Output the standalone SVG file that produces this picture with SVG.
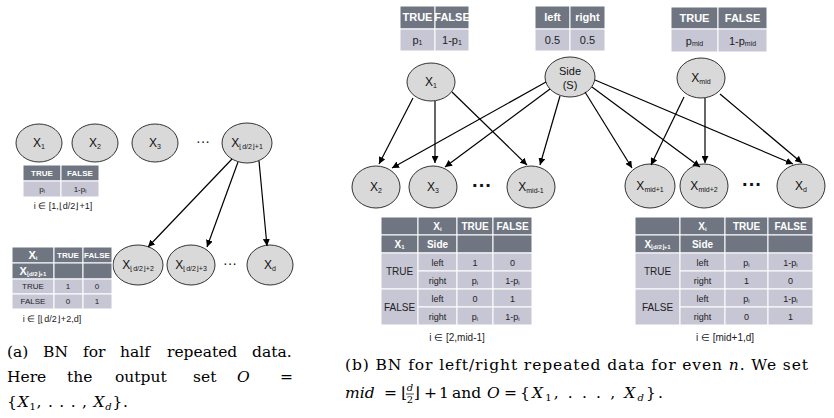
<svg xmlns="http://www.w3.org/2000/svg" width="834" height="418" viewBox="0 0 834 418">
<defs>
<marker id="ah" viewBox="0 0 10 10" refX="10" refY="5" markerWidth="7" markerHeight="7" orient="auto" markerUnits="userSpaceOnUse">
<path d="M0,0 L10,5 L0,10 z" fill="#000"/>
</marker>
<style>
.nd ellipse{fill:#d9d9d9;stroke:#333;stroke-width:1}
.t{font-family:"Liberation Sans",Arial,sans-serif;text-anchor:middle;fill:#111}
.nl{font-size:12px}
.sb{font-size:7px}
.edges line{stroke:#000;stroke-width:1.2;marker-end:url(#ah)}
.hd{fill:#6f7682;stroke:#fff;stroke-width:1}
.dt{fill:#c6c6d4;stroke:#fff;stroke-width:1}
.ht{fill:#fff;font-weight:bold}
.dx{fill:#222}
.cap{font-family:"DejaVu Serif","Liberation Serif",serif;font-size:15.5px;fill:#000}
.it{font-style:italic}
.dots{font-family:"Liberation Sans",Arial,sans-serif;text-anchor:middle;fill:#111}
</style>
</defs>
<rect width="834" height="418" fill="#fff"/>

<!-- ===== (a) ===== -->
<g id="a_x1" class="nd"><ellipse cx="39" cy="143" rx="23" ry="19"/><text class="t nl" x="39" y="147">X<tspan class="sb" dy="2">1</tspan></text></g>
<g id="a_x2" class="nd"><ellipse cx="95" cy="143" rx="23" ry="19"/><text class="t nl" x="95" y="147">X<tspan class="sb" dy="2">2</tspan></text></g>
<g id="a_x3" class="nd"><ellipse cx="155" cy="143" rx="23" ry="19"/><text class="t nl" x="155" y="147">X<tspan class="sb" dy="2">3</tspan></text></g>
<text class="dots" x="203" y="146" font-size="14">···</text>
<g id="a_xh1" class="nd"><ellipse cx="247" cy="143" rx="25" ry="20"/><text class="t nl" x="247" y="147">X<tspan class="sb" dy="2">⌊d/2⌋+1</tspan></text></g>

<g id="a_xh2" class="nd"><ellipse cx="138" cy="265" rx="25" ry="20"/><text class="t nl" x="138" y="269">X<tspan class="sb" dy="2">⌊d/2⌋+2</tspan></text></g>
<g id="a_xh3" class="nd"><ellipse cx="191" cy="265" rx="24" ry="20"/><text class="t nl" x="191" y="269">X<tspan class="sb" dy="2">⌊d/2⌋+3</tspan></text></g>
<text class="dots" x="230" y="268" font-size="14">···</text>
<g id="a_xd" class="nd"><ellipse cx="270" cy="265" rx="23" ry="20"/><text class="t nl" x="270" y="269">X<tspan class="sb" dy="2">d</tspan></text></g>

<g id="a_cpt1">
<rect class="hd" x="23" y="165" width="38" height="16"/><rect class="hd" x="61" y="165" width="38" height="16"/>
<rect class="dt" x="23" y="181" width="38" height="16"/><rect class="dt" x="61" y="181" width="38" height="16"/>
<text class="t ht" x="42" y="176" font-size="8">TRUE</text><text class="t ht" x="80" y="176" font-size="8">FALSE</text>
<text class="t dx" x="42" y="192" font-size="8">p<tspan font-size="5" dy="1">i</tspan></text><text class="t dx" x="80" y="192" font-size="8">1-p<tspan font-size="5" dy="1">i</tspan></text>
<text class="t dx" x="63" y="209" font-size="9">i ∈ [1,⌊d/2⌋+1]</text>
</g>

<g id="a_cpt2">
<rect class="hd" x="12" y="247" width="42" height="16"/><rect class="hd" x="54" y="247" width="29" height="16"/><rect class="hd" x="83" y="247" width="29" height="16"/>
<rect class="hd" x="12" y="263" width="42" height="16"/><rect class="hd" x="54" y="263" width="29" height="16"/><rect class="hd" x="83" y="263" width="29" height="16"/>
<rect class="dt" x="12" y="279" width="42" height="15"/><rect class="dt" x="54" y="279" width="29" height="15"/><rect class="dt" x="83" y="279" width="29" height="15"/>
<rect class="dt" x="12" y="294" width="42" height="15"/><rect class="dt" x="54" y="294" width="29" height="15"/><rect class="dt" x="83" y="294" width="29" height="15"/>
<text class="t ht" x="33" y="259" font-size="11">X<tspan font-size="6" dy="1">i</tspan></text>
<text class="t ht" x="68" y="258" font-size="8">TRUE</text><text class="t ht" x="97" y="258" font-size="8">FALSE</text>
<text class="t ht" x="33" y="275" font-size="11">X<tspan font-size="6" dy="1">⌊d/2⌋+1</tspan></text>
<text class="t dx" x="33" y="289" font-size="8">TRUE</text><text class="t dx" x="68" y="289" font-size="8">1</text><text class="t dx" x="97" y="289" font-size="8">0</text>
<text class="t dx" x="33" y="304" font-size="8">FALSE</text><text class="t dx" x="68" y="304" font-size="8">0</text><text class="t dx" x="97" y="304" font-size="8">1</text>
<text class="t dx" x="52" y="322" font-size="9">i ∈ [⌊d/2⌋+2,d]</text>
</g>

<!-- ===== (b) ===== -->
<g id="b_cpt_x1">
<rect class="hd" x="400" y="6" width="35" height="23"/><rect class="hd" x="435" y="6" width="34" height="23"/>
<rect class="dt" x="400" y="29" width="35" height="22"/><rect class="dt" x="435" y="29" width="34" height="22"/>
<text class="t ht" x="417.5" y="21" font-size="11">TRUE</text><text class="t ht" x="452" y="21" font-size="11">FALSE</text>
<text class="t dx" x="417.5" y="44" font-size="11">p<tspan font-size="7" dy="1">1</tspan></text><text class="t dx" x="452" y="44" font-size="11">1-p<tspan font-size="7" dy="1">1</tspan></text>
</g>
<g id="b_cpt_side">
<rect class="hd" x="535" y="6" width="35" height="23"/><rect class="hd" x="570" y="6" width="35" height="23"/>
<rect class="dt" x="535" y="29" width="35" height="22"/><rect class="dt" x="570" y="29" width="35" height="22"/>
<text class="t ht" x="552.5" y="21" font-size="11">left</text><text class="t ht" x="587.5" y="21" font-size="11">right</text>
<text class="t dx" x="552.5" y="44" font-size="11">0.5</text><text class="t dx" x="587.5" y="44" font-size="11">0.5</text>
</g>
<g id="b_cpt_xmid">
<rect class="hd" x="671" y="7" width="47" height="22"/><rect class="hd" x="718" y="7" width="49" height="22"/>
<rect class="dt" x="671" y="29" width="47" height="23"/><rect class="dt" x="718" y="29" width="49" height="23"/>
<text class="t ht" x="694.5" y="22" font-size="11">TRUE</text><text class="t ht" x="742.5" y="22" font-size="11">FALSE</text>
<text class="t dx" x="694.5" y="45" font-size="11">p<tspan font-size="7" dy="1">mid</tspan></text><text class="t dx" x="742.5" y="45" font-size="11">1-p<tspan font-size="7" dy="1">mid</tspan></text>
</g>

<g id="b_x1" class="nd"><ellipse cx="431" cy="82" rx="24" ry="19"/><text class="t nl" x="431" y="86">X<tspan class="sb" dy="2">1</tspan></text></g>
<g id="b_side" class="nd"><ellipse cx="570" cy="77" rx="25" ry="20"/><text class="t" x="570" y="75" font-size="11">Side</text><text class="t" x="570" y="89" font-size="11">(S)</text></g>
<g id="b_xmid" class="nd"><ellipse cx="701" cy="78" rx="24" ry="20"/><text class="t nl" x="701" y="82">X<tspan class="sb" dy="2">mid</tspan></text></g>

<g id="b_x2" class="nd"><ellipse cx="376" cy="187" rx="24" ry="21"/><text class="t nl" x="376" y="191">X<tspan class="sb" dy="2">2</tspan></text></g>
<g id="b_x3" class="nd"><ellipse cx="433" cy="187" rx="24" ry="21"/><text class="t nl" x="433" y="191">X<tspan class="sb" dy="2">3</tspan></text></g>
<text class="dots" x="482" y="192" font-size="20" font-weight="bold">···</text>
<g id="b_xm1" class="nd"><ellipse cx="531" cy="187" rx="24" ry="21"/><text class="t nl" x="531" y="191">X<tspan class="sb" dy="2">mid-1</tspan></text></g>
<g id="b_xp1" class="nd"><ellipse cx="650" cy="186" rx="25" ry="22"/><text class="t nl" x="650" y="190">X<tspan class="sb" dy="2">mid+1</tspan></text></g>
<g id="b_xp2" class="nd"><ellipse cx="704" cy="186" rx="24" ry="22"/><text class="t nl" x="704" y="190">X<tspan class="sb" dy="2">mid+2</tspan></text></g>
<text class="dots" x="752" y="191" font-size="20" font-weight="bold">···</text>
<g id="b_xd" class="nd"><ellipse cx="801" cy="186" rx="24" ry="22"/><text class="t nl" x="801" y="190">X<tspan class="sb" dy="2">d</tspan></text></g>

<g id="b_cpt_left">
<rect class="hd" x="381" y="217" width="37" height="18"/><rect class="hd" x="418" y="217" width="39" height="18"/><rect class="hd" x="457" y="217" width="36" height="18"/><rect class="hd" x="493" y="217" width="39" height="18"/>
<rect class="hd" x="381" y="235" width="37" height="18"/><rect class="hd" x="418" y="235" width="39" height="18"/><rect class="hd" x="457" y="235" width="36" height="18"/><rect class="hd" x="493" y="235" width="39" height="18"/>
<rect class="dt" x="381" y="253" width="37" height="36"/>
<rect class="dt" x="418" y="253" width="39" height="18"/><rect class="dt" x="457" y="253" width="36" height="18"/><rect class="dt" x="493" y="253" width="39" height="18"/>
<rect class="dt" x="418" y="271" width="39" height="18"/><rect class="dt" x="457" y="271" width="36" height="18"/><rect class="dt" x="493" y="271" width="39" height="18"/>
<rect class="dt" x="381" y="289" width="37" height="36"/>
<rect class="dt" x="418" y="289" width="39" height="18"/><rect class="dt" x="457" y="289" width="36" height="18"/><rect class="dt" x="493" y="289" width="39" height="18"/>
<rect class="dt" x="418" y="307" width="39" height="18"/><rect class="dt" x="457" y="307" width="36" height="18"/><rect class="dt" x="493" y="307" width="39" height="18"/>
<text class="t ht" x="437.5" y="230" font-size="10">X<tspan font-size="6" dy="1">i</tspan></text>
<text class="t ht" x="475" y="230" font-size="10">TRUE</text><text class="t ht" x="512.5" y="230" font-size="10">FALSE</text>
<text class="t ht" x="399.5" y="248" font-size="10">X<tspan font-size="6" dy="1">1</tspan></text><text class="t ht" x="437.5" y="248" font-size="10">Side</text>
<text class="t dx" x="399.5" y="275" font-size="10">TRUE</text>
<text class="t dx" x="437.5" y="266" font-size="9">left</text><text class="t dx" x="475" y="266" font-size="9">1</text><text class="t dx" x="512.5" y="266" font-size="9">0</text>
<text class="t dx" x="437.5" y="284" font-size="9">right</text><text class="t dx" x="475" y="284" font-size="9">p<tspan font-size="6" dy="1">i</tspan></text><text class="t dx" x="512.5" y="284" font-size="9">1-p<tspan font-size="6" dy="1">i</tspan></text>
<text class="t dx" x="399.5" y="311" font-size="10">FALSE</text>
<text class="t dx" x="437.5" y="302" font-size="9">left</text><text class="t dx" x="475" y="302" font-size="9">0</text><text class="t dx" x="512.5" y="302" font-size="9">1</text>
<text class="t dx" x="437.5" y="320" font-size="9">right</text><text class="t dx" x="475" y="320" font-size="9">p<tspan font-size="6" dy="1">i</tspan></text><text class="t dx" x="512.5" y="320" font-size="9">1-p<tspan font-size="6" dy="1">i</tspan></text>
<text class="t dx" x="457" y="341" font-size="10">i ∈ [2,mid-1]</text>
</g>

<g id="b_cpt_right">
<rect class="hd" x="635" y="217" width="45" height="18"/><rect class="hd" x="680" y="217" width="45" height="18"/><rect class="hd" x="725" y="217" width="43" height="18"/><rect class="hd" x="768" y="217" width="45" height="18"/>
<rect class="hd" x="635" y="235" width="45" height="18"/><rect class="hd" x="680" y="235" width="45" height="18"/><rect class="hd" x="725" y="235" width="43" height="18"/><rect class="hd" x="768" y="235" width="45" height="18"/>
<rect class="dt" x="635" y="253" width="45" height="36"/>
<rect class="dt" x="680" y="253" width="45" height="18"/><rect class="dt" x="725" y="253" width="43" height="18"/><rect class="dt" x="768" y="253" width="45" height="18"/>
<rect class="dt" x="680" y="271" width="45" height="18"/><rect class="dt" x="725" y="271" width="43" height="18"/><rect class="dt" x="768" y="271" width="45" height="18"/>
<rect class="dt" x="635" y="289" width="45" height="36"/>
<rect class="dt" x="680" y="289" width="45" height="18"/><rect class="dt" x="725" y="289" width="43" height="18"/><rect class="dt" x="768" y="289" width="45" height="18"/>
<rect class="dt" x="680" y="307" width="45" height="18"/><rect class="dt" x="725" y="307" width="43" height="18"/><rect class="dt" x="768" y="307" width="45" height="18"/>
<text class="t ht" x="702.5" y="230" font-size="10">X<tspan font-size="6" dy="1">i</tspan></text>
<text class="t ht" x="746.5" y="230" font-size="10">TRUE</text><text class="t ht" x="790.5" y="230" font-size="10">FALSE</text>
<text class="t ht" x="657.5" y="248" font-size="10">X<tspan font-size="6" dy="1">⌊d/2⌋+1</tspan></text><text class="t ht" x="702.5" y="248" font-size="10">Side</text>
<text class="t dx" x="657.5" y="275" font-size="10">TRUE</text>
<text class="t dx" x="702.5" y="266" font-size="9">left</text><text class="t dx" x="746.5" y="266" font-size="9">p<tspan font-size="6" dy="1">i</tspan></text><text class="t dx" x="790.5" y="266" font-size="9">1-p<tspan font-size="6" dy="1">i</tspan></text>
<text class="t dx" x="702.5" y="284" font-size="9">right</text><text class="t dx" x="746.5" y="284" font-size="9">1</text><text class="t dx" x="790.5" y="284" font-size="9">0</text>
<text class="t dx" x="657.5" y="311" font-size="10">FALSE</text>
<text class="t dx" x="702.5" y="302" font-size="9">left</text><text class="t dx" x="746.5" y="302" font-size="9">p<tspan font-size="6" dy="1">i</tspan></text><text class="t dx" x="790.5" y="302" font-size="9">1-p<tspan font-size="6" dy="1">i</tspan></text>
<text class="t dx" x="702.5" y="320" font-size="9">right</text><text class="t dx" x="746.5" y="320" font-size="9">0</text><text class="t dx" x="790.5" y="320" font-size="9">1</text>
<text class="t dx" x="725" y="341" font-size="10">i ∈ [mid+1,d]</text>
</g>

<g id="edges" class="edges">
<line x1="232" y1="159" x2="148" y2="247"/>
<line x1="238" y1="162" x2="207" y2="247"/>
<line x1="259" y1="161" x2="267" y2="246"/>
<line x1="413" y1="98" x2="379" y2="164"/>
<line x1="435" y1="101" x2="435" y2="163"/>
<line x1="452" y1="92" x2="527" y2="165"/>
<line x1="546" y1="82" x2="392" y2="168"/>
<line x1="550" y1="89" x2="445" y2="167"/>
<line x1="560" y1="96" x2="540" y2="165"/>
<line x1="585" y1="92" x2="632" y2="168"/>
<line x1="592" y1="87" x2="700" y2="167"/>
<line x1="595" y1="80" x2="793" y2="164"/>
<line x1="684" y1="97" x2="651" y2="165"/>
<line x1="705" y1="98" x2="705" y2="163"/>
<line x1="720" y1="94" x2="802" y2="163"/>
</g>

<g id="caption_a" class="cap">
<text y="357"><tspan x="7">(a)</tspan><tspan x="43">BN</tspan><tspan x="83">for</tspan><tspan x="120">half</tspan><tspan x="167">repeated</tspan><tspan x="252">data.</tspan></text>
<text y="382"><tspan x="7">Here</tspan><tspan x="67">the</tspan><tspan x="115">output</tspan><tspan x="193">set</tspan><tspan x="237" class="it">O</tspan><tspan x="280">=</tspan></text>
<text y="407" x="7" textLength="121" lengthAdjust="spacing">{<tspan class="it">X</tspan><tspan font-size="10" dy="3">1</tspan><tspan dy="-3">, . . . , </tspan><tspan class="it">X</tspan><tspan class="it" font-size="10" dy="3">d</tspan><tspan dy="-3">}.</tspan></text>
</g>

<g id="caption_b" class="cap">
<text x="345" y="370" textLength="463" lengthAdjust="spacing">(b) BN for left/right repeated data for even <tspan class="it">n</tspan>. We set</text>
<text x="345" y="398" class="it">mid</text>
<text x="384" y="398">=</text>
<text x="401" y="398">⌊</text>
<text x="410" y="391" font-size="10" text-anchor="middle" class="it">d</text>
<line x1="406" y1="394" x2="414" y2="394" stroke="#000" stroke-width="0.7"/>
<text x="410" y="403" font-size="10" text-anchor="middle">2</text>
<text x="414" y="398">⌋</text>
<text x="424" y="398">+</text>
<text x="439" y="398">1</text>
<text x="452" y="398">and</text>
<text x="487" y="398" class="it">O</text>
<text x="504" y="398">=</text>
<text x="520" y="398" textLength="143" lengthAdjust="spacing">{<tspan class="it">X</tspan><tspan font-size="10" dy="3">1</tspan><tspan dy="-3">, . . . , </tspan><tspan class="it">X</tspan><tspan class="it" font-size="10" dy="3">d</tspan><tspan dy="-3">}.</tspan></text>
</g>
</svg>
